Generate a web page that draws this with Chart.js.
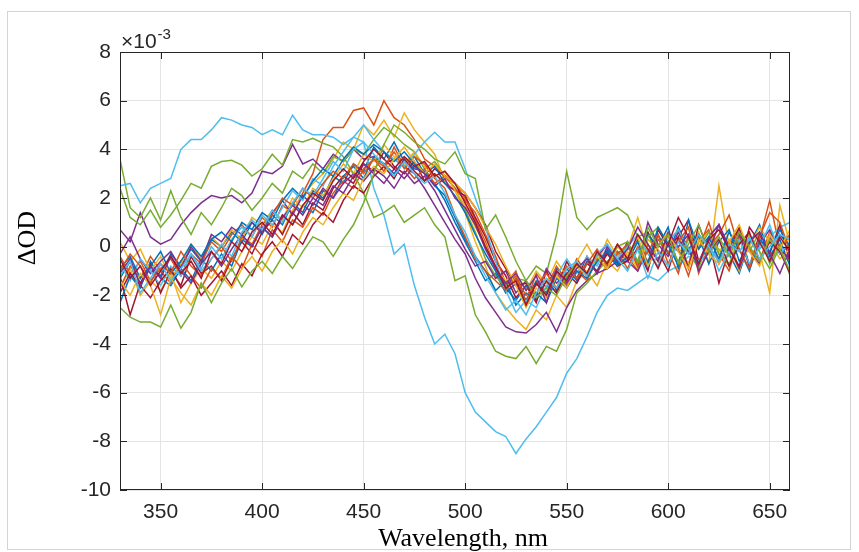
<!DOCTYPE html>
<html>
<head>
<meta charset="utf-8">
<script src="https://cdn.jsdelivr.net/npm/chart.js@4.4.1/dist/chart.umd.min.js"></script>
<style>
  html, body { margin: 0; padding: 0; background: #fff; }
  #wrap { width: 859px; height: 552px; }
</style>
</head>
<body>
<div id="wrap"><canvas id="myChart" width="859" height="552"></canvas></div>
<script>
// wavelengths (nm), every 5 nm
const wavelength = [330,335,340,345,350,355,360,365,370,375,
  380,385,390,395,400,405,410,415,420,425,
  430,435,440,445,450,455,460,465,470,475,
  480,485,490,495,500,505,510,515,520,525,
  530,535,540,545,550,555,560,565,570,575,
  580,585,590,595,600,605,610,615,620,625,
  630,635,640,645,650,655,660]

// axis ticks
const xTicks = [350, 400, 450, 500, 550, 600, 650]
const yTicks = [-10, -8, -6, -4, -2, 0, 2, 4, 6, 8]

// matlab default line colours
const colors = ['#0072BD', '#D95319', '#EDB120', '#7E2F8E', '#77AC30', '#4DBEEE', '#A2142F']

// ΔOD spectra, in units of 1e-3
const blue1 = [-1.3,-0.6,-1.5,-0.9,-1.2,-0.3,-0.8,-0.1,-0.6,0.3,
  0.0,0.6,0.2,1.0,0.5,1.3,0.9,1.8,1.4,2.3,
  2.0,2.9,2.6,3.4,3.1,4.1,3.6,4.3,3.5,3.7,
  3.0,2.6,1.9,1.0,0.2,-0.6,-1.4,-1.1,-1.9,-1.5,
  -2.2,-1.4,-1.9,-0.9,-1.3,-0.7,-1.2,-0.5,-0.9,-0.2,
  -0.6,0.2,-0.9,0.5,-0.3,0.8,-0.1,-0.8,0.4,0.9,
  -0.3,-1.1,0.2,0.6,-0.6,0.5,0.0]
const orange1 = [-0.4,-1.1,-0.6,-1.4,-0.9,-0.5,-1.2,-0.3,-0.7,0.2,
  -0.2,0.5,0.9,0.4,1.2,0.8,1.7,1.4,2.2,3.0,
  4.4,4.9,4.9,5.6,5.7,5.0,6.0,5.3,5.0,4.4,
  3.6,3.3,2.9,2.6,2.0,1.1,0.2,-0.9,-1.6,-1.2,
  -2.3,-1.1,-1.7,-0.8,-1.4,-0.5,-1.1,-0.2,-0.7,0.1,
  -0.4,-1.0,0.1,-0.6,0.5,-0.1,-1.2,0.2,0.7,-0.7,
  0.1,0.6,-0.8,0.3,1.9,-0.1,-0.6]
const yellow1 = [-1.7,-0.9,-2.0,-1.4,-1.8,-1.1,-2.3,-1.5,-0.9,-1.3,
  -0.6,-1.0,-0.2,0.4,0.1,0.9,0.6,1.5,2.1,2.6,
  3.0,3.6,4.3,4.0,5.0,4.6,5.2,4.5,5.5,4.8,
  4.3,3.8,2.7,2.3,1.4,0.2,-0.8,-1.9,-2.5,-3.0,
  -3.4,-2.6,-3.0,-2.0,-2.5,-1.4,-1.0,-1.6,-0.6,-1.0,
  -0.2,-0.9,0.3,-0.1,-0.8,0.4,-0.3,0.6,-0.7,2.5,
  0.0,-1.0,0.5,-0.2,-1.9,1.7,0.1]
const purple1 = [0.7,0.2,1.4,0.4,0.1,0.3,0.9,1.4,1.8,2.1,
  2.0,2.1,1.8,2.2,3.1,3.0,3.3,4.2,3.4,3.6,
  3.2,3.8,3.5,4.0,3.6,3.7,3.4,3.6,3.3,3.0,
  2.4,1.7,1.0,0.3,-0.3,-1.3,-2.1,-2.7,-3.3,-3.5,
  -3.55,-3.2,-2.7,-3.5,-2.5,-1.8,-1.4,-1.1,-0.9,-0.6,
  -0.6,-1.0,-0.1,-0.5,0.2,-0.2,-0.7,0.5,0.0,-0.6,
  0.2,0.7,-0.2,-0.7,0.4,-0.3,0.1]
const green1 = [3.6,1.6,1.2,2.0,1.1,2.3,1.2,0.5,1.4,0.9,
  1.6,2.4,2.1,1.5,2.0,2.6,2.2,3.1,2.8,3.4,
  3.0,3.7,3.5,4.0,3.8,4.4,4.9,4.6,4.2,3.9,
  3.2,3.5,2.9,2.4,1.5,0.6,-0.5,-1.2,-1.7,-1.3,
  -1.4,-0.8,-1.1,0.5,3.1,1.2,0.7,1.2,1.4,1.6,
  1.3,0.4,0.6,-0.6,0.2,0.7,-0.2,-0.9,0.3,-0.1,
  -0.8,0.4,-0.2,0.6,-0.7,0.1,-1.2]
const cyan1 = [2.5,2.6,1.8,2.4,2.6,2.8,4.0,4.4,4.4,4.8,
  5.3,5.2,5.0,4.9,4.6,4.8,4.6,5.4,4.8,4.6,
  4.6,4.5,4.2,4.5,4.3,2.4,1.3,-0.3,0.1,-1.6,
  -2.9,-4.0,-3.6,-4.4,-6.0,-6.8,-7.2,-7.6,-7.8,-8.5,
  -7.9,-7.4,-6.8,-6.2,-5.2,-4.6,-3.7,-2.7,-2.0,-1.7,
  -1.8,-1.5,-1.2,-1.4,-1.0,-0.8,-0.4,-0.6,-0.3,0.2,
  0.0,-0.2,0.3,-0.1,0.4,0.8,1.0]
const red1 = [-1.2,-2.8,-1.5,-0.7,-1.9,-1.0,-1.6,-0.4,-1.1,-0.8,
  -1.4,-0.5,0.2,-0.3,0.6,1.1,0.5,1.4,0.9,1.8,
  1.5,2.4,2.9,2.6,3.4,3.1,3.9,3.3,3.0,3.5,
  2.7,3.0,2.6,2.3,2.1,1.2,0.4,-0.6,-1.2,-2.1,
  -1.6,-2.3,-1.0,-1.8,-0.6,-1.3,-0.4,-1.1,-0.2,-0.8,
  0.0,-0.7,0.6,-0.2,-1.0,0.4,1.1,-0.6,0.2,-1.5,
  -0.1,0.8,-0.8,0.5,-0.3,0.9,-0.6]
const blue2 = [-2.3,-1.2,-1.7,-0.6,-1.3,-1.6,-0.9,-1.4,-0.5,-1.0,
  -0.3,-0.8,0.3,0.0,0.8,0.4,1.3,0.9,1.7,1.4,
  2.3,2.0,2.9,3.3,2.8,3.7,3.4,3.0,3.6,3.2,
  3.1,2.5,2.1,1.2,0.3,-0.4,-1.0,-1.8,-1.4,-2.4,
  -1.9,-2.2,-1.4,-1.9,-0.9,-1.4,-0.6,-1.0,-0.1,-0.7,
  0.1,-0.6,0.5,0.0,0.8,-0.9,-0.1,0.4,-0.7,0.2,
  0.7,-0.6,0.1,0.9,-0.4,0.3,-0.8]
const orange2 = [-1.7,-0.8,-1.3,-0.4,-1.0,-1.5,-0.6,-1.2,-1.7,-0.9,
  -1.3,-0.4,-0.9,0.1,-0.4,0.7,0.2,1.1,0.8,1.6,
  1.3,2.2,2.7,2.4,3.2,3.6,3.1,4.1,3.3,2.8,
  3.2,2.6,2.9,2.4,1.9,1.4,0.5,-0.4,-1.5,-1.0,
  -2.4,-1.5,-2.0,-1.1,-1.6,-1.0,-1.4,-0.5,-0.9,-0.2,
  -0.9,0.0,-0.6,0.3,-0.2,-1.1,0.5,-0.1,1.0,-0.3,
  -1.0,0.4,-0.1,-0.6,0.6,0.0,0.5]
const yellow2 = [0.2,-0.6,-0.1,-1.0,-0.4,-1.3,-0.7,0.1,-0.5,0.4,
  0.0,0.7,0.3,1.2,0.9,1.5,1.1,2.0,1.6,2.4,
  2.1,2.8,3.4,3.0,3.8,3.5,4.2,3.7,3.4,3.9,
  3.3,2.9,3.1,2.3,1.7,0.8,0.1,-0.9,-1.4,-1.1,
  -1.8,-1.0,-1.5,-0.6,-1.2,-0.6,0.1,-0.7,0.3,-0.4,
  -0.1,1.2,-0.2,-0.8,0.4,0.0,-0.7,0.2,0.6,-0.2,
  0.3,-0.9,0.0,0.8,0.2,-0.5,-0.1]
const purple2 = [-0.3,0.4,-0.5,-1.1,-0.6,-0.2,-0.9,0.0,-0.6,0.5,
  0.2,0.8,0.5,1.0,0.6,1.4,1.9,1.3,2.1,1.7,
  2.4,2.0,2.6,3.0,2.7,3.2,2.9,2.4,3.1,2.6,
  2.9,2.3,1.5,0.7,-0.1,-0.8,-0.6,-1.3,-1.0,-1.9,
  -1.4,-2.0,-0.9,-1.5,-1.1,-0.7,-1.2,-0.4,0.1,-0.6,
  0.2,-0.8,1.0,0.1,-0.4,0.6,-0.2,-0.7,0.4,0.9,
  -0.2,0.5,-0.8,0.1,0.7,-0.1,-0.5]
const green2 = [2.4,1.2,0.9,1.5,0.8,1.3,1.9,2.6,2.4,3.3,
  3.5,3.55,3.35,2.9,3.2,3.8,3.35,4.4,4.3,4.45,
  4.25,4.1,3.7,3.0,2.2,1.2,1.4,1.7,1.0,1.3,
  1.6,0.9,0.4,-1.4,-1.2,-2.8,-3.5,-4.3,-4.5,-4.6,
  -4.1,-4.8,-4.1,-4.3,-3.4,-1.9,-1.5,-1.0,-0.6,-0.3,
  0.0,-0.7,0.4,0.8,0.1,-0.6,0.3,-0.1,0.6,-0.3,
  -0.7,0.2,0.5,-0.2,-0.9,0.0,0.4]
const cyan2 = [-0.7,-1.4,-0.5,-1.0,-1.6,-0.8,-1.2,-0.3,-0.9,0.0,
  -0.5,0.3,0.8,0.4,1.3,0.9,1.6,2.3,1.9,2.8,
  2.5,3.3,3.9,4.5,5.0,4.4,3.9,3.6,3.3,3.8,
  4.3,4.7,4.3,4.3,3.2,2.0,0.8,-0.6,-1.8,-2.7,
  -2.2,-2.5,-1.6,-1.2,-0.5,-1.1,-0.4,-0.8,0.0,-0.5,
  0.0,0.5,-0.3,-0.8,0.2,0.7,-0.1,-0.6,0.1,-1.0,
  -0.2,0.3,-0.7,0.0,0.9,-0.3,0.2]
const red2 = [-1.9,-1.1,-1.6,-2.1,-1.4,-0.9,-1.7,-1.2,-2.0,-1.5,
  -1.0,-1.6,-0.7,-1.2,-0.3,0.2,-0.4,0.5,0.1,0.9,
  1.4,1.0,1.9,2.5,2.2,2.9,3.3,2.8,3.6,3.1,
  2.7,3.2,2.9,2.6,2.2,1.6,0.9,-0.2,-0.9,-1.6,
  -1.5,-2.2,-1.4,-1.9,-1.1,-1.5,-0.7,-1.0,-0.3,-0.8,
  -0.6,-0.1,-1.0,0.7,0.0,0.4,-0.9,0.9,-0.2,0.3,
  -0.8,0.1,0.6,-0.6,0.2,-0.2,-1.1]
const blue3 = [-0.9,-0.4,-1.3,-0.8,-0.2,-1.1,-0.6,0.1,-0.4,0.3,
  0.6,0.2,1.0,0.7,1.4,1.1,1.9,2.4,2.0,2.7,
  3.2,2.9,3.6,4.1,3.8,4.2,3.9,3.5,3.9,3.4,
  3.0,3.3,2.6,2.1,1.4,0.5,-0.3,-1.0,-1.7,-2.2,
  -1.6,-1.9,-2.3,-1.3,-1.7,-1.0,-1.3,-0.6,-0.2,-0.8,
  -0.4,0.3,-0.7,0.8,0.1,-0.8,1.1,-0.1,0.4,-0.5,
  0.6,-0.1,-1.0,0.3,-0.2,0.7,0.0]
const orange3 = [-1.0,-0.3,-0.8,-1.5,-0.7,-1.1,-0.2,-0.8,-1.2,-0.5,
  0.0,-0.6,0.4,0.1,0.9,1.3,2.0,1.7,2.4,2.0,
  2.6,3.1,2.8,3.4,3.0,3.6,3.3,3.9,3.2,3.7,
  3.4,2.8,2.4,1.3,0.4,-0.5,-1.0,-1.4,-1.8,-1.3,
  -2.0,-1.6,-1.1,-1.7,-0.8,-1.3,-0.7,-0.1,-0.8,-0.3,
  0.1,-0.8,-0.2,0.5,-0.7,0.2,0.8,-1.1,0.0,0.5,
  1.3,-0.1,-0.9,0.4,1.4,1.0,-0.2]
const yellow3 = [-1.4,-2.0,-1.1,-1.6,-2.8,-1.3,-1.9,-2.4,-1.5,-2.0,
  -1.2,-1.7,-0.9,-0.4,-1.0,-0.2,0.3,-0.3,0.6,1.2,
  0.9,1.6,2.2,1.9,2.8,3.3,3.0,3.6,4.1,3.5,
  3.0,3.4,2.9,2.6,2.2,1.6,0.8,0.1,-0.8,-1.6,
  -2.5,-1.7,-2.1,-1.2,-1.7,-0.8,-1.2,-0.4,-0.9,0.0,
  -0.4,0.4,-0.8,0.0,0.6,-0.2,-0.9,0.3,-0.3,-0.7,
  0.2,0.9,-0.2,-0.8,0.5,-0.1,0.7]
const purple3 = [-1.1,-0.5,-1.6,-0.8,-1.3,-0.4,-1.0,-1.5,-0.7,-0.2,
  -0.8,-0.1,0.5,0.0,0.8,0.4,1.2,1.7,1.3,2.0,
  1.7,2.5,2.2,2.9,3.4,3.0,2.6,3.2,2.8,3.3,
  3.0,2.5,2.8,2.0,1.6,0.9,-0.1,-0.9,-1.5,-1.1,
  -1.8,-1.2,-2.3,-1.0,-1.5,-0.9,-0.5,-1.1,0.0,-0.6,
  -0.1,0.8,0.1,-0.6,0.6,0.0,0.5,-1.0,-0.2,0.9,
  0.0,-0.9,0.2,0.6,-0.3,-1.1,-0.1]
const green3 = [-2.5,-2.9,-3.1,-3.1,-3.3,-2.4,-3.35,-2.7,-1.5,-2.3,
  -1.5,-0.9,-1.65,-1.0,-0.6,-1.1,-0.4,-0.9,-0.2,0.4,
  0.2,-0.4,0.3,0.9,1.8,3.0,4.2,5.0,4.7,4.3,
  4.0,3.6,3.4,3.9,3.0,2.8,0.7,1.3,0.4,-0.6,
  -1.4,-2.1,-1.7,-2.0,-1.2,-0.7,-1.1,-0.3,-0.7,0.0,
  0.2,-0.6,0.8,0.0,0.5,-0.7,0.1,0.9,-0.2,0.4,
  -0.4,0.6,0.0,-0.6,0.3,-0.1,-1.0]
const cyan3 = [-1.2,-0.6,-1.9,-1.3,-0.7,-1.4,-0.9,-0.3,-1.0,-0.5,
  0.1,-0.4,0.6,1.1,0.7,1.5,1.0,1.8,2.4,2.1,
  2.8,3.5,3.1,4.0,4.3,3.8,3.4,2.9,3.5,3.0,
  2.6,2.9,2.2,1.3,0.6,-0.4,-1.2,-1.9,-2.6,-2.2,
  -2.8,-1.9,-1.3,-1.7,-0.9,-0.6,-1.2,-0.3,0.1,-0.5,
  -1.0,-0.1,-1.3,-0.2,-0.8,0.2,-0.3,0.5,0.0,-0.6,
  0.1,-0.2,0.4,-0.5,0.0,0.5,0.3]
const red3 = [-0.5,-1.3,-0.8,-1.6,-1.0,-0.4,-1.1,-0.6,-1.3,-0.2,
  -0.7,0.2,-0.2,0.6,1.0,0.5,1.3,0.9,1.7,2.2,
  1.9,2.7,3.2,2.8,3.5,4.0,3.6,3.2,3.7,3.3,
  3.5,2.9,3.1,2.6,1.8,1.0,0.0,-0.8,-1.7,-1.4,
  -2.4,-1.5,-2.0,-1.0,-1.4,-0.7,-1.1,-0.2,-0.7,0.1,
  -0.5,0.5,-0.1,-0.9,0.1,1.2,0.4,-0.7,0.3,0.7,
  -0.1,-0.8,0.8,0.2,-0.6,0.4,-0.2]

// in plotting order (colours cycle like matlab)
const allSeries = [blue1, orange1, yellow1, purple1, green1, cyan1, red1,
  blue2, orange2, yellow2, purple2, green2, cyan2, red2,
  blue3, orange3, yellow3, purple3, green3, cyan3, red3]

const tickFont = '"Liberation Sans", Arial, Helvetica, sans-serif'
const serifFont = '"Liberation Serif", "Times New Roman", serif'

// draws the outer frame, the axes box, inward ticks and the titles
const framePlugin = {
    id: 'frame',
    beforeDraw(chart) {
        const c = chart.ctx
        c.save()
        c.fillStyle = '#ffffff'
        c.fillRect(0, 0, chart.width, chart.height)
        c.strokeStyle = '#d4d4d4'
        c.lineWidth = 1
        c.strokeRect(7.5, 11.5, 843, 538)
        c.restore()
    },
    afterDraw(chart) {
        const c = chart.ctx
        const a = chart.chartArea
        const x = chart.scales.x
        const y = chart.scales.y
        c.save()
        c.strokeStyle = '#262626'
        c.lineWidth = 1
        c.strokeRect(a.left + 0.5, a.top + 0.5, a.right - a.left - 1, a.bottom - a.top - 1)
        c.beginPath()
        xTicks.forEach(v => {
            const px = Math.round(x.getPixelForValue(v)) + 0.5
            c.moveTo(px, a.bottom); c.lineTo(px, a.bottom - 7)
            c.moveTo(px, a.top); c.lineTo(px, a.top + 7)
        })
        yTicks.forEach(v => {
            const py = Math.round(y.getPixelForValue(v)) + 0.5
            c.moveTo(a.left, py); c.lineTo(a.left + 7, py)
            c.moveTo(a.right, py); c.lineTo(a.right - 7, py)
        })
        c.stroke()

        // exponent label
        c.fillStyle = '#262626'
        c.textAlign = 'left'
        c.textBaseline = 'alphabetic'
        c.font = '21px ' + tickFont
        c.fillText('\u00d710', 121, 48)
        const w = c.measureText('\u00d710').width
        c.font = '15px ' + tickFont
        c.fillText('-3', 121 + w + 1, 39)

        // axis titles
        c.fillStyle = '#000000'
        c.font = '26px ' + serifFont
        c.textAlign = 'center'
        c.fillText('Wavelength, nm', 463, 546)
        c.translate(35, 238)
        c.rotate(-Math.PI / 2)
        c.fillText('\u0394OD', 0, 0)
        c.restore()
    }
}

const ctx = document.getElementById('myChart')

new Chart(ctx, {
    type: 'line',
    data: {
        datasets: allSeries.map((s, i) => ({
            data: s.map((v, k) => ({ x: wavelength[k], y: v })),
            borderColor: colors[i % colors.length],
            borderWidth: 1.5,
            pointRadius: 0,
            fill: false,
            tension: 0,
            order: allSeries.length - i
        }))
    },
    options: {
        responsive: false,
        animation: false,
        layout: { padding: { left: 0, top: 52, right: 69, bottom: 0 } },
        plugins: {
            legend: { display: false },
            tooltip: { enabled: false }
        },
        scales: {
            x: {
                type: 'linear',
                min: 330,
                max: 660,
                afterBuildTicks: s => { s.ticks = xTicks.map(v => ({ value: v })) },
                afterFit: s => { s.height = 62 },
                grid: { color: '#e4e4e4', drawTicks: false },
                border: { display: false },
                ticks: {
                    padding: 10,
                    color: '#262626',
                    maxRotation: 0,
                    font: { family: tickFont, size: 21 },
                    callback: v => String(v)
                }
            },
            y: {
                min: -10,
                max: 8,
                afterBuildTicks: s => { s.ticks = yTicks.map(v => ({ value: v })) },
                afterFit: s => { s.width = 120 },
                grid: { color: '#e4e4e4', drawTicks: false },
                border: { display: false },
                ticks: {
                    padding: 9,
                    color: '#262626',
                    font: { family: tickFont, size: 21 },
                    callback: v => String(v)
                }
            }
        }
    },
    plugins: [framePlugin]
})
</script>
</body>
</html>
